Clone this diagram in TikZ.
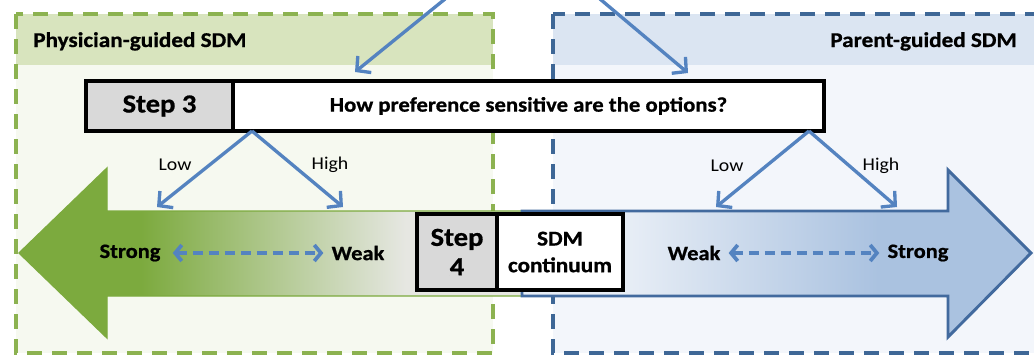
\documentclass[tikz,border=0pt]{standalone}
\usepackage{fontspec}
\setmainfont[FakeStretch=1.1,BoldFeatures={FakeBold=0.8}]{Carlito}
\usetikzlibrary{arrows.meta}
\definecolor{grA}{RGB}{124,170,62}
\definecolor{grB}{RGB}{230,231,226}
\definecolor{blL}{RGB}{232,238,246}
\definecolor{blD}{RGB}{170,194,224}
\definecolor{blEdge}{RGB}{66,106,158}
\definecolor{grDash}{RGB}{140,178,80}
\definecolor{blDash}{RGB}{62,103,150}
\definecolor{grHead}{RGB}{216,228,190}
\definecolor{grBody}{RGB}{246,249,240}
\definecolor{blHead}{RGB}{219,229,242}
\definecolor{blBody}{RGB}{243,246,251}
\definecolor{lineBlue}{RGB}{84,131,192}
\definecolor{stepGray}{RGB}{217,217,217}
\pgfdeclarehorizontalshading{greenfade}{100bp}{color(0bp)=(grA); color(25bp)=(grA); color(37bp)=(grA); color(63bp)=(grB); color(100bp)=(grB)}
\pgfdeclarehorizontalshading{bluefade}{100bp}{color(0bp)=(blL); color(25bp)=(blL); color(35bp)=(blL); color(60bp)=(blD); color(100bp)=(blD)}
\tikzset{
  dashbox/.style={line width=2.6pt, dash pattern=on 11.25pt off 7.5pt},
  blueline/.style={draw=lineBlue, line width=2.5pt, -{Straight Barb[length=7.5pt,width=16pt,line width=2.5pt]}},
  dblarrow/.style={draw=lineBlue, line width=2.8pt, dash pattern=on 7.5pt off 4.5pt,
     {Straight Barb[length=5pt,width=12pt,line width=2.8pt]}-{Straight Barb[length=5pt,width=12pt,line width=2.8pt]}},
  stepbox/.style={draw=black, line width=2.5pt, inner sep=0pt, font=\bfseries\fontsize{19.5pt}{21pt}\selectfont, align=center},
  labtext/.style={font=\bfseries\fontsize{15.3pt}{17pt}\selectfont, inner sep=0pt},
  vlab/.style={font=\fontsize{13.5pt}{15pt}\selectfont, inner sep=0pt},
  headtext/.style={font=\bfseries\fontsize{15.8pt}{17pt}\selectfont, inner sep=0pt},
}
\begin{document}
\begin{tikzpicture}[x=0.75pt,y=-0.75pt]
\useasboundingbox (0,0) rectangle (1034,358);
\fill[white] (0,0) rectangle (1034,358);
% panels
\fill[grBody] (16,14) rectangle (493,353);
\fill[grHead] (16,14) rectangle (493,65);
\fill[blBody] (553,14) rectangle (1045,353);
\fill[blHead] (553,14) rectangle (1045,65);
\draw[dashbox, draw=grDash] (16,14) rectangle (493,353);
\draw[dashbox, draw=blDash] (553,14) rectangle (1045,353);
\node[headtext, anchor=base west] (phys) at (33,47) {Physician-guided SDM};
\node[headtext, anchor=base east] (par) at (1017,47) {Parent-guided SDM};
% big arrows
\path[shading=greenfade, draw=grA, line width=1pt] (528,211) -- (107,211) -- (107,168) -- (19,253) -- (107,338) -- (107,296) -- (528,296) -- cycle;
\path[shading=bluefade, draw=blEdge, line width=2.2pt] (522,211) -- (948,211) -- (948,170) -- (1031,253) -- (948,337) -- (948,296) -- (522,296) -- cycle;
% step 3
\node[stepbox, fill=stepGray, minimum width=147*0.75pt, minimum height=50*0.75pt] (s3) at (159.5,106) {Step 3};
\node[stepbox, fill=white, minimum width=591*0.75pt, minimum height=50*0.75pt, font=\bfseries\fontsize{15.5pt}{17pt}\selectfont] (q3) at (528.5,106) {How preference sensitive are the options?};
% step 4
\node[stepbox, fill=stepGray, minimum width=80*0.75pt, minimum height=76*0.75pt] (s4) at (457,252) {Step\\[1pt]4};
\node[stepbox, fill=white, minimum width=126*0.75pt, minimum height=76*0.75pt, font=\bfseries\fontsize{15.8pt}{17pt}\selectfont] (c4) at (560,252) {SDM\\[3pt]continuum};
% top incoming arrows
\coordinate (tl) at (445,-1);
\coordinate (tle) at (355,72);
\coordinate (tr) at (600,-1);
\coordinate (tre) at (688,73);
\draw[blueline] (tl) -- (tle);
\draw[blueline] (tr) -- (tre);
% V branches
\coordinate (aL) at (252,131);
\coordinate (lowL) at (157,207);
\coordinate (highL) at (343,207);
\coordinate (aR) at (809,131);
\coordinate (lowR) at (716,207);
\coordinate (highR) at (897,207);
\draw[blueline] (aL) -- (lowL);
\draw[blueline] (aL) -- (highL);
\draw[blueline] (aR) -- (lowR);
\draw[blueline] (aR) -- (highR);
\node[vlab] (lowLt) at (175,165) {Low};
\node[vlab] (highLt) at (330,165) {High};
\node[vlab] (lowRt) at (727,166) {Low};
\node[vlab] (highRt) at (881,166) {High};
% strong/weak
\node[labtext] (strL) at (130,253) {Strong};
\node[labtext] (weakL) at (358,253) {Weak};
\node[labtext] (weakR) at (694,253) {Weak};
\node[labtext] (strR) at (918,253) {Strong};
\draw[dblarrow] ([xshift=9pt]strL.east) -- ([xshift=-6pt]weakL.west);
\draw[dblarrow] ([xshift=6pt]weakR.east) -- ([xshift=-6pt]strR.west);
\end{tikzpicture}
\end{document}
